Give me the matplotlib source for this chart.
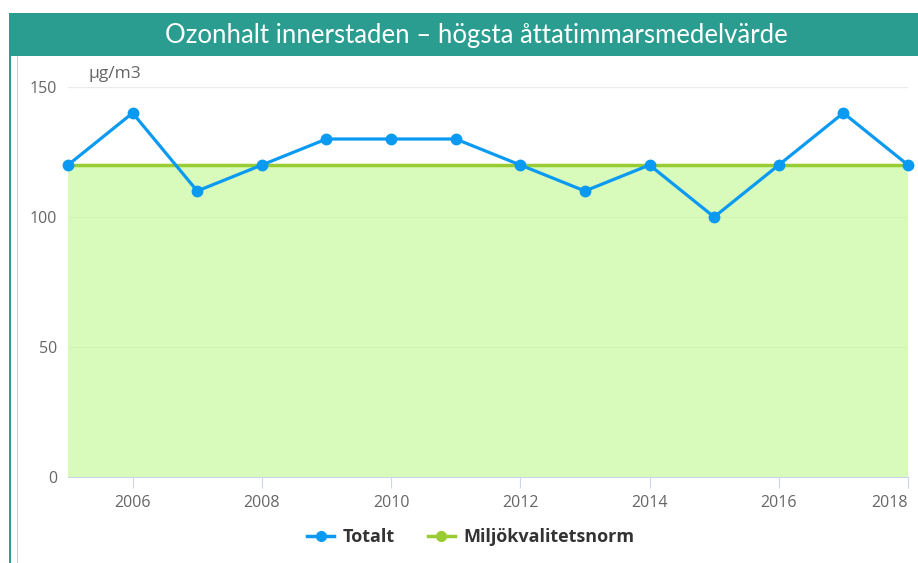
import matplotlib.pyplot as plt
from matplotlib.patches import Rectangle
from matplotlib.lines import Line2D

# Data
years = [2005, 2006, 2007, 2008, 2009, 2010, 2011, 2012, 2013, 2014, 2015, 2016, 2017, 2018]
totalt = [120, 140, 110, 120, 130, 130, 130, 120, 110, 120, 100, 120, 140, 120]
norm = [120] * len(years)
y_ticks = [0, 50, 100, 150]
x_ticks = [2006, 2008, 2010, 2012, 2014, 2016, 2018]

plt.rcParams["font.family"] = ["Open Sans", "DejaVu Sans"]

W, H = 918, 563
fig = plt.figure(figsize=(W / 100, H / 100), dpi=100)

# Header bar and left border
fig.patches.append(Rectangle((9 / W, 1 - 56 / H), 1, 43 / H, transform=fig.transFigure,
                             facecolor="#2a9d90", edgecolor="none", zorder=0))
fig.patches.append(Rectangle((9 / W, 0), 2 / W, 1 - 56 / H, transform=fig.transFigure,
                             facecolor="#2a9d90", edgecolor="none", zorder=0))
fig.patches.append(Rectangle((17 / W, 0), 1 / W, 1 - 56 / H, transform=fig.transFigure,
                             facecolor="#cccccc", edgecolor="none", zorder=0))
fig.text(476 / W, 1 - 36 / H, "Ozonhalt innerstaden – högsta åttatimmarsmedelvärde",
         color="white", fontsize=18.5, ha="center", va="center", family=["Lato", "DejaVu Sans"])

# Plot area: x 68..908, y 87 (150) .. 477 (0)
ax = fig.add_axes([68 / W, 1 - 477 / H, (908 - 68) / W, (477 - 87) / H])
ax.set_xlim(2005, 2018)
ax.set_ylim(0, 150)

ax.fill_between(years, norm, 0, color="#c8fa9e", alpha=0.7, linewidth=0, zorder=1)
ax.plot(years, norm, color="#99cc33", linewidth=2.5, zorder=2)
ax.plot(years, totalt, color="#0a9af2", linewidth=2.3, marker="o", markersize=7.5,
        zorder=3, clip_on=False)

ax.set_yticks(y_ticks)
ax.set_xticks(x_ticks)
ax.grid(axis="y", color="#ebebeb", linewidth=1, zorder=0)
ax.set_axisbelow(True)
for s in ["top", "right", "left"]:
    ax.spines[s].set_visible(False)
ax.spines["bottom"].set_color("#ccd6eb")
ax.tick_params(axis="y", length=0, pad=8, labelsize=11.5, labelcolor="#666666")
ax.tick_params(axis="x", length=8, color="#ccd6eb", pad=5, labelsize=11.5, labelcolor="#666666")
for lbl in ax.get_yticklabels():
    lbl.set_y(lbl.get_position()[1])
ax.get_xticklabels()[-1].set_horizontalalignment("right")

ax.text(0.024, 1.012, "µg/m3", transform=ax.transAxes, fontsize=12.5, color="#666666",
        ha="left", va="bottom")

handles = [
    Line2D([], [], color="#0a9af2", linewidth=2.5, marker="o", markersize=7),
    Line2D([], [], color="#99cc33", linewidth=2.5, marker="o", markersize=7),
]
leg = fig.legend(handles, ["Totalt", "Miljökvalitetsnorm"], loc="center",
                 bbox_to_anchor=(471 / W, 1 - 537 / H), ncol=2, frameon=False,
                 handlelength=1.5, columnspacing=1.8, handletextpad=0.5,
                 prop={"size": 13, "weight": "bold"})
for t in leg.get_texts():
    t.set_color("#333333")

fig.savefig("out.png", dpi=100)
